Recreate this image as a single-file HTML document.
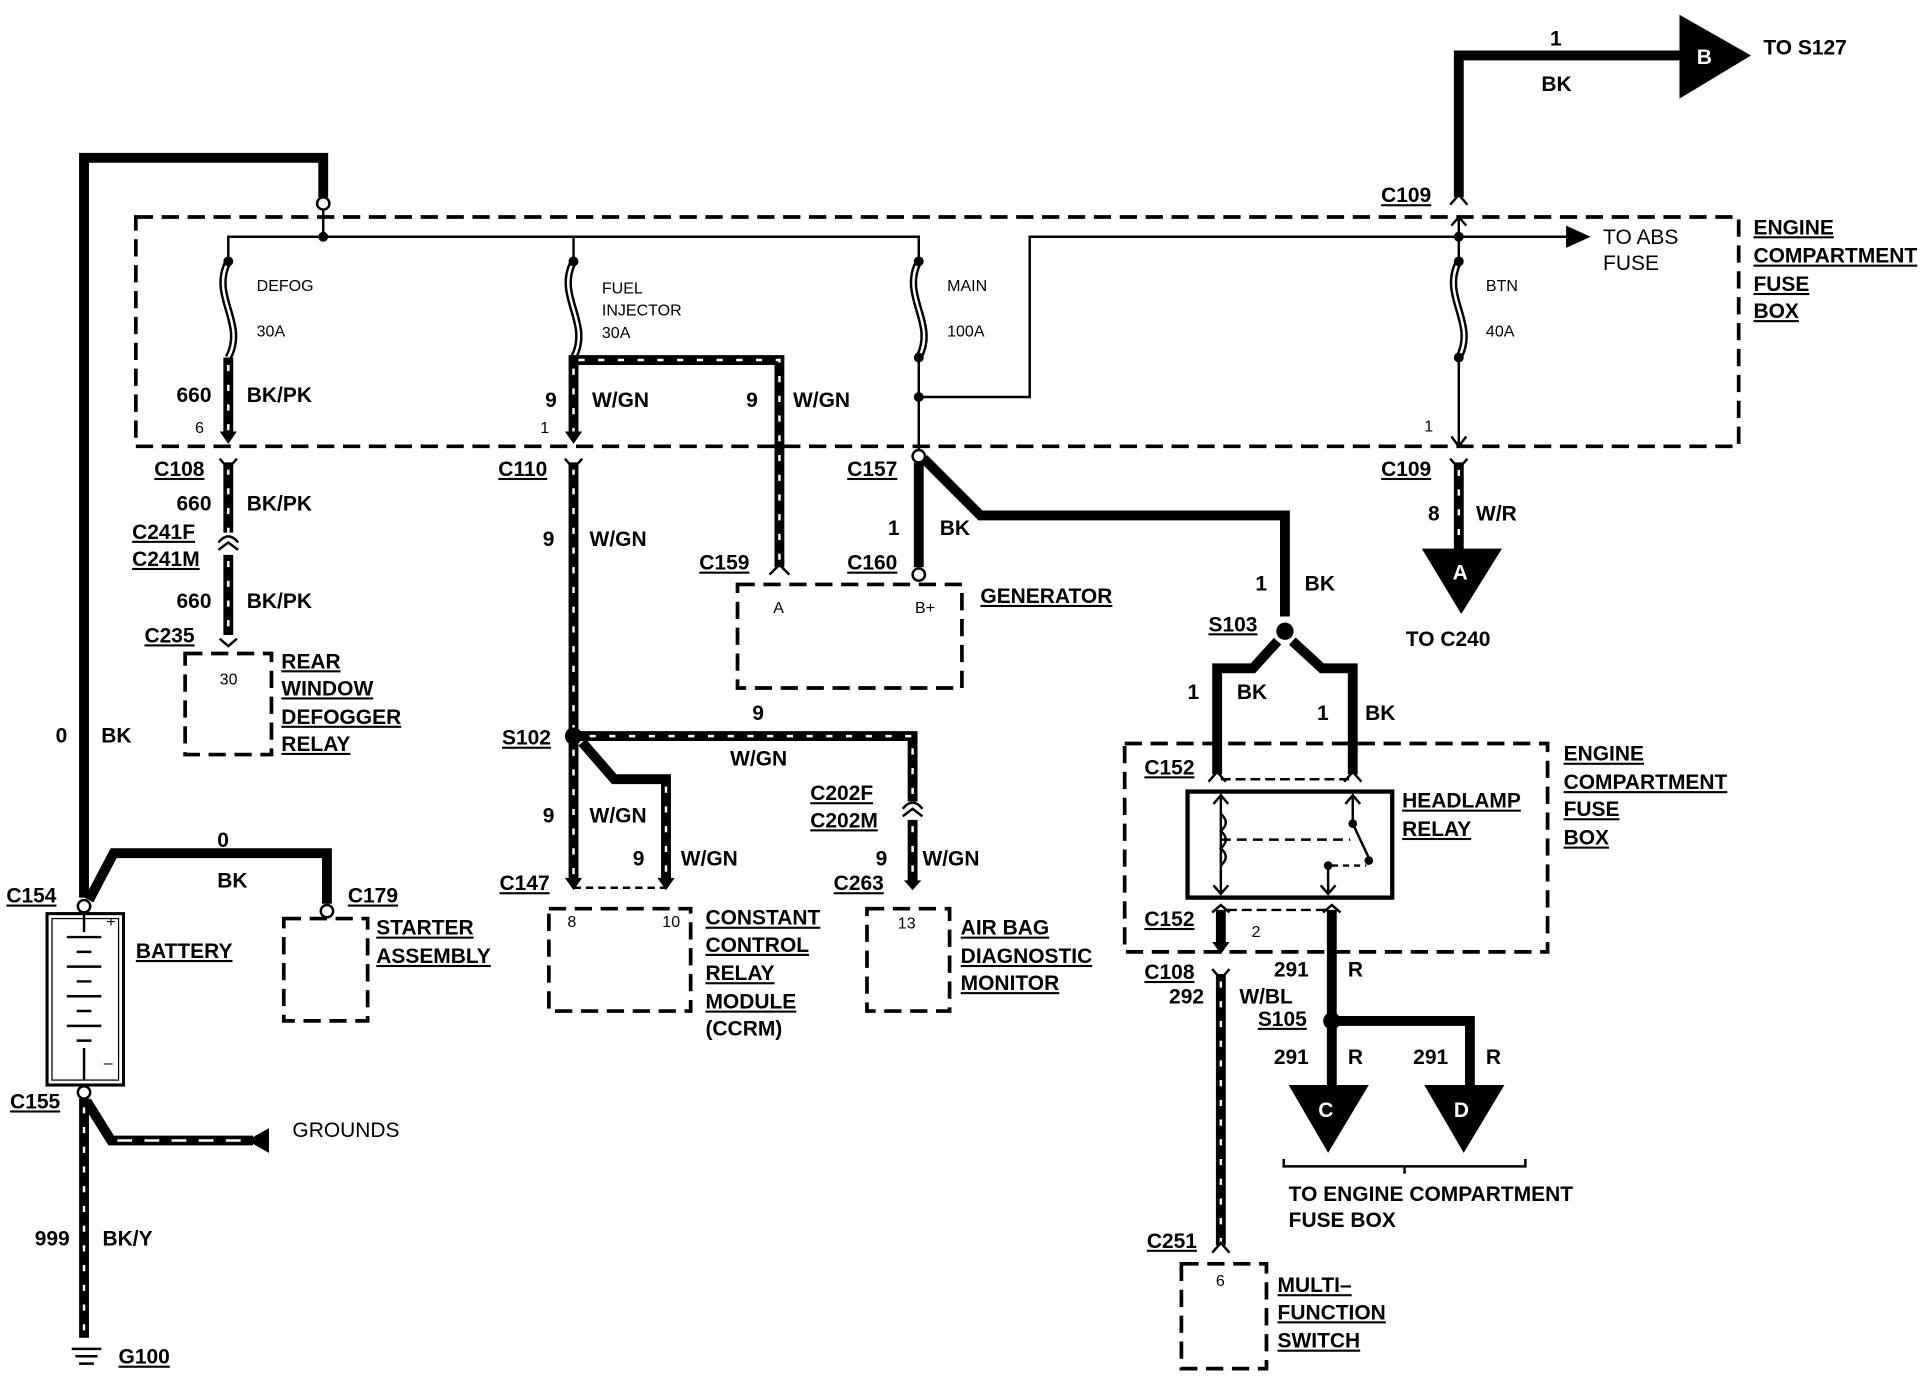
<!DOCTYPE html>
<html><head><meta charset="utf-8"><style>
html,body{margin:0;padding:0;background:#fff;}
svg{display:block;}
text{font-family:"Liberation Sans",Arial,sans-serif;font-weight:bold;font-size:17px;fill:#000;}
.s{font-size:13px;font-weight:normal;}
.u{text-decoration:underline;}
.w{fill:none;stroke:#000;stroke-width:8;stroke-linejoin:miter;}
.d{fill:none;stroke:#fff;stroke-width:2;stroke-dasharray:5 11;}
.t{fill:none;stroke:#000;stroke-width:2;}
.box{fill:none;stroke:#000;stroke-width:3;stroke-dasharray:14 7;}
.fo{fill:none;stroke:#000;stroke-width:6;}
.fi{fill:none;stroke:#fff;stroke-width:2;}
</style></head><body>
<svg width="1930" height="1376" viewBox="0 0 1565 1116" xmlns="http://www.w3.org/2000/svg">
<rect x="110" y="176" width="1300" height="186" class="box"/>
<rect x="912" y="603" width="343" height="169" class="box"/>
<rect x="150" y="530" width="70" height="82" class="box"/>
<rect x="230" y="745" width="68" height="83" class="box"/>
<rect x="598" y="474" width="182" height="84" class="box"/>
<rect x="445" y="737" width="115" height="83" class="box"/>
<rect x="703" y="737" width="67" height="83" class="box"/>
<rect x="958" y="1025" width="69" height="85" class="box"/>

<path d="M68,728 L68,128 L262,128 L262,160" class="w"/>
<circle cx="262" cy="165" r="5" fill="#fff" stroke="#000" stroke-width="2"/>
<path d="M262,170 L262,192" class="t"/>
<circle cx="262" cy="192" r="4"/>
<path d="M185,212 L185,192 L745,192 L745,212" class="t"/>
<path d="M465,192 L465,212" class="t"/>
<g>
<path d="M185,212 C170,240 200,262 185,290" class="fo"/><path d="M185,212 C170,240 200,262 185,290" class="fi"/>
<path d="M465,212 C450,240 480,262 465,290" class="fo"/><path d="M465,212 C450,240 480,262 465,290" class="fi"/>
<path d="M745,212 C730,240 760,262 745,290" class="fo"/><path d="M745,212 C730,240 760,262 745,290" class="fi"/>
<path d="M1183,212 C1168,240 1198,262 1183,290" class="fo"/><path d="M1183,212 C1168,240 1198,262 1183,290" class="fi"/>
<circle cx="185" cy="212" r="4"/><circle cx="465" cy="212" r="4"/><circle cx="745" cy="212" r="4"/><circle cx="1183" cy="212" r="4"/>
<circle cx="745" cy="290" r="4"/><circle cx="1183" cy="290" r="4"/>
</g>
<path d="M185,290 L185,352" class="w"/><path d="M185,296 L185,352" class="d"/>
<path d="M178,350 L185,360 L192,350" fill="#000"/>
<path d="M185,375 L185,432" class="w"/><path d="M185,380 L185,432" class="d"/>
<path d="M178,372 L185,380 L192,372" class="t" stroke-width="3"/>
<path d="M177,440 Q185,430 193,440" class="t" stroke-width="3"/>
<path d="M185,450 L185,515" class="w"/><path d="M185,455 L185,515" class="d"/>
<path d="M177,446 L185,440 L193,446" class="t" stroke-width="3"/>
<path d="M178,518 L185,524 L192,518" class="t" stroke-width="3"/>
<text x="208" y="236" class="s">DEFOG</text><text x="208" y="273" class="s">30A</text>
<text x="143" y="326">660</text><text x="200" y="326">BK/PK</text><text x="158" y="351" class="s">6</text>
<text x="125" y="386" class="u">C108</text>
<text x="143" y="414">660</text><text x="200" y="414">BK/PK</text>
<text x="107" y="437" class="u">C241F</text><text x="107" y="459" class="u">C241M</text>
<text x="143" y="493">660</text><text x="200" y="493">BK/PK</text>
<text x="117" y="521" class="u">C235</text>
<text x="178" y="555" class="s">30</text>
<text x="228" y="542" class="u">REAR</text><text x="228" y="564" class="u">WINDOW</text><text x="228" y="587" class="u">DEFOGGER</text><text x="228" y="609" class="u">RELAY</text>
<text x="45" y="602">0</text><text x="82" y="602">BK</text>
<path d="M465,352 L465,292 L632,292 L632,460" class="w"/>
<path d="M465,352 L465,292 L632,292 L632,460" class="d"/>
<path d="M458,350 L465,360 L472,350" fill="#000"/>
<path d="M624,466 L632,458 L640,466" class="t" stroke-width="3"/>
<text x="488" y="238" class="s">FUEL</text><text x="488" y="256" class="s">INJECTOR</text><text x="488" y="274" class="s">30A</text>
<text x="442" y="330">9</text><text x="480" y="330">W/GN</text>
<text x="605" y="330">9</text><text x="643" y="330">W/GN</text>
<text x="438" y="351" class="s">1</text>
<text x="404" y="386" class="u">C110</text>
<path d="M465,375 L465,592" class="w"/><path d="M465,380 L465,592" class="d"/>
<path d="M458,372 L465,380 L472,372" class="t" stroke-width="3"/>
<text x="440" y="443">9</text><text x="478" y="443">W/GN</text>
<text x="567" y="462" class="u">C159</text>
<circle cx="465" cy="597" r="7"/>
<text x="407" y="604" class="u">S102</text>
<path d="M470,597 L740,597 L740,650" class="w"/><path d="M478,597 L740,597 L740,650" class="d"/>
<path d="M732,656 Q740,646 748,656" class="t" stroke-width="3"/>
<path d="M740,665 L740,715" class="w"/><path d="M740,670 L740,715" class="d"/>
<path d="M732,662 L740,656 L748,662" class="t" stroke-width="3"/>
<path d="M733,714 L740,722 L747,714" fill="#000"/>
<text x="610" y="584">9</text><text x="592" y="621">W/GN</text>
<text x="657" y="649" class="u">C202F</text><text x="657" y="671" class="u">C202M</text>
<text x="710" y="702">9</text><text x="748" y="702">W/GN</text>
<text x="676" y="722" class="u">C263</text>
<path d="M465,602 L465,714" class="w"/><path d="M465,608 L465,714" class="d"/>
<path d="M458,712 L465,722 L472,712" fill="#000"/>
<path d="M472,602 L498,632 L540,632 L540,714" class="w"/><path d="M540,638 L540,714" class="d"/>
<path d="M533,712 L540,722 L547,712" fill="#000"/>
<path d="M465,720 L540,720" class="t" stroke-dasharray="6 4"/>
<text x="440" y="667">9</text><text x="478" y="667">W/GN</text>
<text x="513" y="702">9</text><text x="552" y="702">W/GN</text>
<text x="405" y="722" class="u">C147</text>
<text x="460" y="752" class="s">8</text><text x="537" y="752" class="s">10</text>
<text x="572" y="750" class="u">CONSTANT</text><text x="572" y="772" class="u">CONTROL</text><text x="572" y="795" class="u">RELAY</text><text x="572" y="818" class="u">MODULE</text><text x="572" y="840">(CCRM)</text>
<text x="728" y="753" class="s">13</text>
<text x="779" y="758" class="u">AIR BAG</text><text x="779" y="781" class="u">DIAGNOSTIC</text><text x="779" y="803" class="u">MONITOR</text>
<path d="M745,290 L745,366" class="t"/>
<circle cx="745" cy="322" r="4"/>
<path d="M745,322 L835,322 L835,192 L1272,192" class="t"/>
<path d="M1270,183 L1290,192 L1270,201 Z"/>
<text x="1300" y="198" style="font-weight:normal">TO ABS</text><text x="1300" y="219" style="font-weight:normal">FUSE</text>
<text x="768" y="236" class="s">MAIN</text><text x="768" y="273" class="s">100A</text>
<circle cx="745" cy="370" r="5" fill="#fff" stroke="#000" stroke-width="2"/>
<text x="687" y="386" class="u">C157</text>
<path d="M745,375 L745,460" class="w"/>
<circle cx="745" cy="466" r="5" fill="#fff" stroke="#000" stroke-width="2"/>
<path d="M749,372 L795,418 L1042,418 L1042,500" class="w"/>
<text x="720" y="434">1</text><text x="762" y="434">BK</text>
<text x="687" y="462" class="u">C160</text>
<text x="627" y="497" class="s">A</text><text x="742" y="497" class="s">B+</text>
<text x="795" y="489" class="u">GENERATOR</text>
<text x="1018" y="479">1</text><text x="1058" y="479">BK</text>
<circle cx="1042" cy="512" r="7"/>
<text x="980" y="512" class="u">S103</text>
<path d="M1036,520 L1016,542 L987,542 L987,628" class="w"/>
<path d="M1048,520 L1072,542 L1097,542 L1097,628" class="w"/>
<path d="M980,634 L987,626 L994,634" class="t" stroke-width="3"/>
<path d="M1090,634 L1097,626 L1104,634" class="t" stroke-width="3"/>
<path d="M990,632 L1094,632" class="t" stroke-dasharray="8 4"/>
<text x="963" y="567">1</text><text x="1003" y="567">BK</text>
<text x="1068" y="584">1</text><text x="1107" y="584">BK</text>
<text x="928" y="628" class="u">C152</text>
<rect x="963" y="642" width="166" height="86" fill="none" stroke="#000" stroke-width="3.5"/>
<path d="M990,645 L990,725 M984,652 L990,645 L996,652 M984,718 L990,725 L996,718" class="t"/>
<path d="M990,660 q8,7 0,14 q8,7 0,14 q8,7 0,14" class="t" fill="#fff"/>
<path d="M990,681 L1095,681" class="t" stroke-dasharray="8 5"/>
<path d="M1097,645 L1097,668 L1112,700 M1091,652 L1097,645 L1103,652" class="t"/>
<circle cx="1097" cy="668" r="3.5"/><circle cx="1110" cy="698" r="3.5"/>
<circle cx="1077" cy="702" r="3.5"/>
<path d="M1077,702 L1077,725 M1071,718 L1077,725 L1083,718" class="t"/>
<path d="M1080,702 L1108,702" class="t" stroke-dasharray="5 4"/>
<text x="1137" y="655" class="u">HEADLAMP</text><text x="1137" y="678" class="u">RELAY</text>
<text x="1268" y="617" class="u">ENGINE</text><text x="1268" y="640" class="u">COMPARTMENT</text><text x="1268" y="662" class="u">FUSE</text><text x="1268" y="685" class="u">BOX</text>
<text x="928" y="751" class="u">C152</text>
<path d="M990,738 L990,766" class="w"/><path d="M983,764 L990,774 L997,764" fill="#000"/>
<path d="M983,740 L990,734 L997,740 M1073,740 L1080,734 L1087,740" class="t" stroke-width="3"/>
<path d="M995,738 L1076,738" class="t" stroke-dasharray="8 4"/>
<text x="1015" y="760" class="s">2</text>
<path d="M1080,738 L1080,828" class="w"/>
<circle cx="1080" cy="828" r="7"/>
<path d="M1080,828 L1192,828 L1192,880" class="w"/>
<path d="M1080,828 L1080,880" class="w"/>
<path d="M1045,880 L1110,880 L1077,935 Z"/><text x="1069" y="906" style="fill:#fff">C</text>
<path d="M1155,880 L1220,880 L1187,935 Z"/><text x="1179" y="906" style="fill:#fff">D</text>
<text x="1033" y="792">291</text><text x="1093" y="792">R</text>
<text x="1020" y="832" class="u">S105</text>
<text x="1033" y="863">291</text><text x="1093" y="863">R</text>
<text x="1146" y="863">291</text><text x="1205" y="863">R</text>
<path d="M1041,940 L1041,946 L1237,946 L1237,940 M1139,946 L1139,952" class="t"/>
<text x="1045" y="974">TO ENGINE COMPARTMENT</text><text x="1045" y="995">FUSE BOX</text>
<text x="928" y="794" class="u">C108</text><text x="948" y="814">292</text><text x="1005" y="814">W/BL</text>
<path d="M990,790 L990,1010" class="w"/><path d="M990,796 L990,1010" class="d"/>
<path d="M983,786 L990,794 L997,786" class="t" stroke-width="3"/>
<path d="M983,1016 L990,1008 L997,1016" class="t" stroke-width="3"/>
<text x="930" y="1012" class="u">C251</text>
<text x="986" y="1043" class="s">6</text>
<text x="1036" y="1048" class="u">MULTI–</text><text x="1036" y="1070" class="u">FUNCTION</text><text x="1036" y="1093" class="u">SWITCH</text>
<path d="M1183,160 L1183,45 L1365,45" class="w"/>
<path d="M1362,12 L1420,45 L1362,80 Z"/><text x="1376" y="52" style="fill:#fff">B</text>
<text x="1257" y="37">1</text><text x="1250" y="74">BK</text>
<text x="1430" y="44">TO S127</text>
<path d="M1176,166 L1183,158 L1190,166" class="t" stroke-width="3"/>
<text x="1120" y="164" class="u">C109</text>
<path d="M1183,176 L1183,212 M1177,183 L1183,176 L1189,183" class="t"/>
<circle cx="1183" cy="192" r="4"/>
<path d="M1183,290 L1183,360 M1177,354 L1183,362 L1189,354" class="t"/>
<text x="1205" y="236" class="s">BTN</text><text x="1205" y="273" class="s">40A</text>
<text x="1155" y="350" class="s">1</text>
<text x="1120" y="386" class="u">C109</text>
<path d="M1183,375 L1183,446" class="w"/><path d="M1183,381 L1183,446" class="d"/>
<path d="M1176,372 L1183,380 L1190,372" class="t" stroke-width="3"/>
<path d="M1153,445 L1218,445 L1185,498 Z"/><text x="1178" y="470" style="fill:#fff">A</text>
<text x="1158" y="422">8</text><text x="1197" y="422">W/R</text>
<text x="1140" y="524">TO C240</text>
<text x="1422" y="190" class="u">ENGINE</text><text x="1422" y="213" class="u">COMPARTMENT</text><text x="1422" y="236" class="u">FUSE</text><text x="1422" y="258" class="u">BOX</text>
<circle cx="68" cy="735" r="5" fill="#fff" stroke="#000" stroke-width="2"/>
<text x="5" y="732" class="u">C154</text>
<path d="M72,730 L92,692 L265,692 L265,733" class="w"/>
<circle cx="265" cy="739" r="5" fill="#fff" stroke="#000" stroke-width="2"/>
<text x="176" y="687">0</text><text x="176" y="720">BK</text>
<text x="282" y="732" class="u">C179</text>
<text x="305" y="758" class="u">STARTER</text><text x="305" y="781" class="u">ASSEMBLY</text>
<rect x="38" y="741" width="62" height="139" fill="none" stroke="#000" stroke-width="2.5"/>
<rect x="42" y="745" width="54" height="131" fill="none" stroke="#000" stroke-width="1"/>
<path d="M68,742 L68,756 M54,760 L82,760 M62,772 L74,772 M54,784 L82,784 M62,796 L74,796 M54,808 L82,808 M62,820 L74,820 M54,832 L82,832 M62,844 L74,844 M68,850 L68,876" class="t"/>
<text x="86" y="752" class="s">+</text><text x="84" y="866" class="s">–</text>
<text x="110" y="777" class="u">BATTERY</text>
<circle cx="68" cy="886" r="5" fill="#fff" stroke="#000" stroke-width="2"/>
<text x="8" y="899" class="u">C155</text>
<path d="M68,891 L68,1085" class="w"/><path d="M68,898 L68,1085" class="d"/>
<path d="M70,893 L90,925 L205,925" class="w"/><path d="M95,925 L205,925" stroke="#fff" stroke-width="2" stroke-dasharray="12 10"/>
<path d="M200,925 L218,915 L218,935 Z"/>
<text x="237" y="922" style="font-weight:normal">GROUNDS</text>
<text x="28" y="1010">999</text><text x="83" y="1010">BK/Y</text>
<path d="M58,1094 L82,1094 M61,1100 L79,1100 M64,1106 L76,1106" class="t" stroke-width="3"/>
<text x="96" y="1106" class="u">G100</text>
</svg>
</body></html>
